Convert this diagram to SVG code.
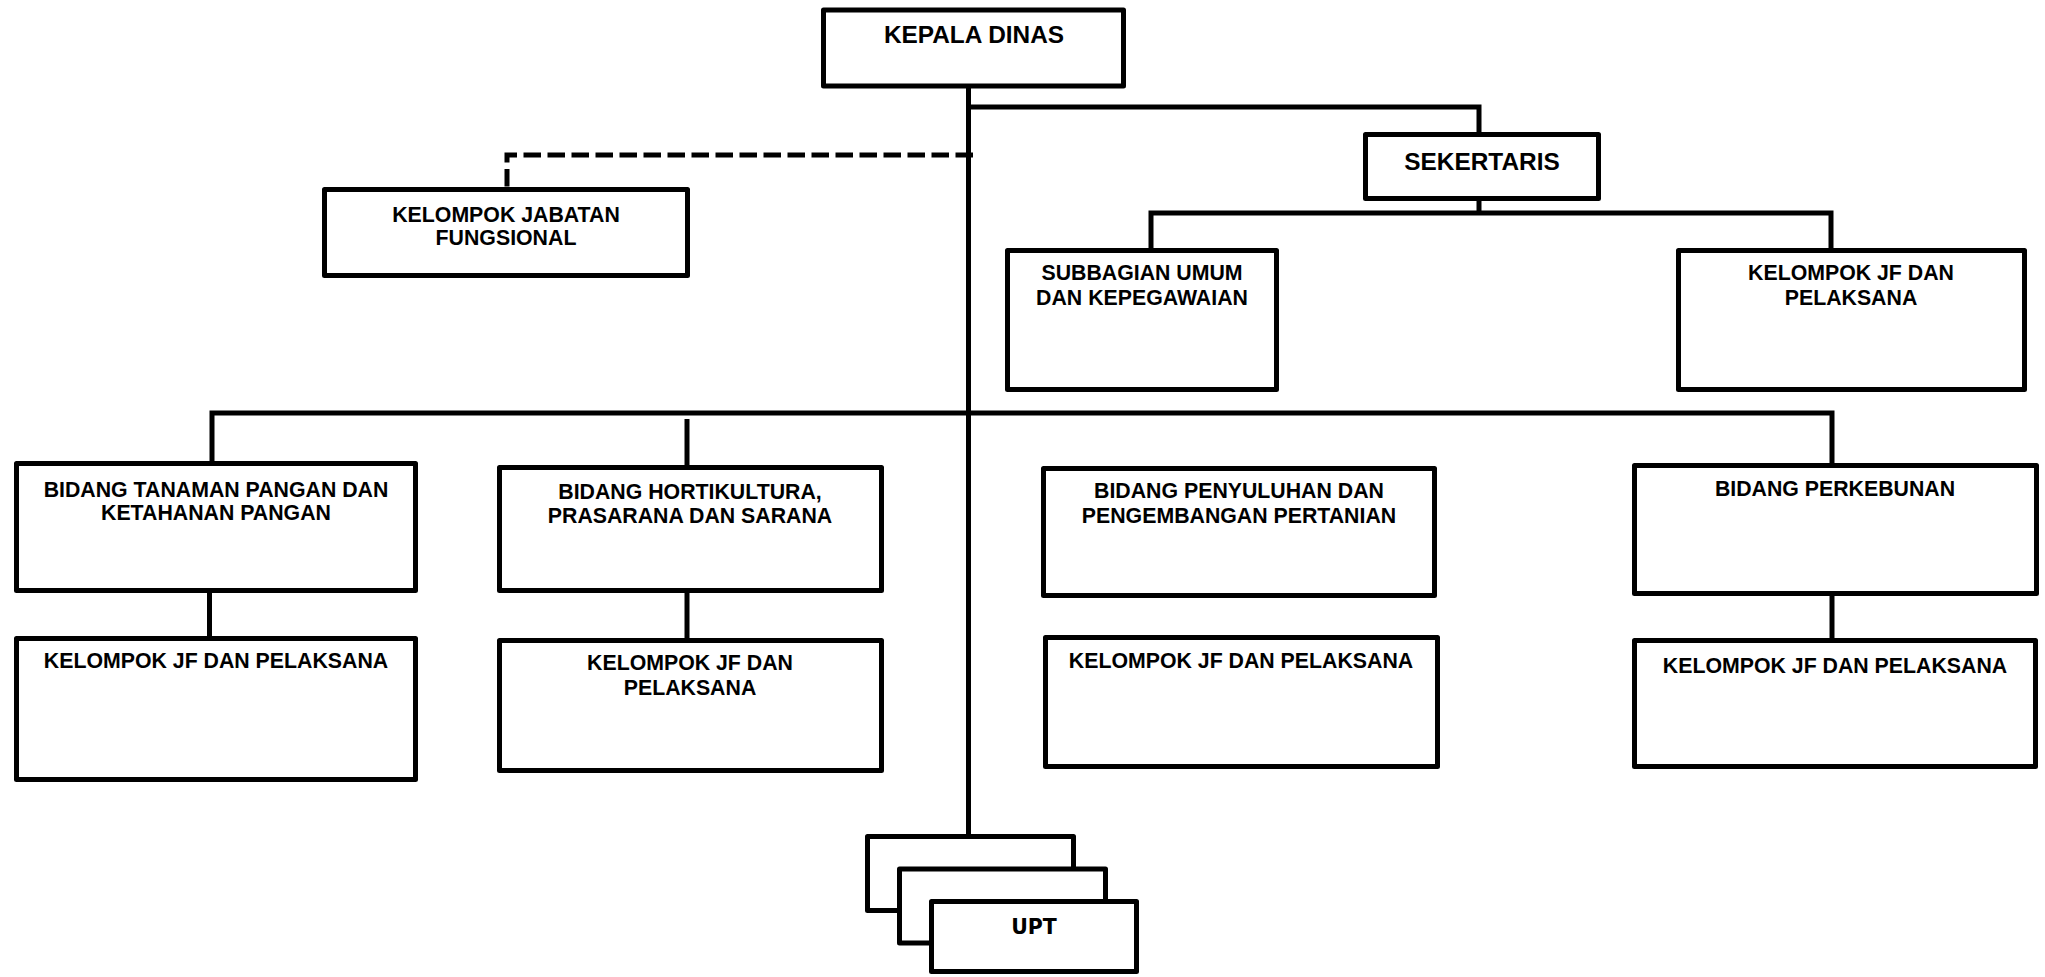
<svg xmlns="http://www.w3.org/2000/svg" width="2045" height="977" viewBox="0 0 2045 977">
<style>
.box{fill:#fff;stroke:#000;stroke-width:5;stroke-linejoin:round}
.ln{fill:none;stroke:#000;stroke-width:5;stroke-linejoin:miter}
.dash{stroke-dasharray:17.5 6.5}
.t{font-family:"Liberation Sans",Arial,sans-serif;font-weight:bold;font-size:21.3px;text-anchor:middle;fill:#000}
.tl{font-size:24.4px}
.u{font-family:"DejaVu Sans",sans-serif;font-weight:bold;font-size:20.5px;text-anchor:middle;fill:#000}
</style>
<rect width="2045" height="977" fill="#fff"/>
<g id="connectors">
<path class="ln" d="M968.5 88 V834"/>
<path class="ln" d="M968.5 107 H1479 V132"/>
<path class="ln dash" d="M973 155 H507 V187"/>
<path class="ln" d="M1479 201 V213"/>
<path class="ln" d="M1151 248 V213 H1831 V248"/>
<path class="ln" d="M212 461 V413 H1832 V463"/>
<path class="ln" d="M687 419 V465"/>
<path class="ln" d="M209.5 593 V636"/>
<path class="ln" d="M687 593 V638"/>
<path class="ln" d="M1832 596 V638"/>
</g>
<g id="kepala-dinas">
<rect class="box" x="823.5" y="10" width="300" height="76"/>
<text class="t tl" x="974" y="43">KEPALA DINAS</text>
</g>
<g id="sekertaris">
<rect class="box" x="1365.5" y="134.5" width="233" height="64"/>
<text class="t tl" x="1482" y="170">SEKERTARIS</text>
</g>
<g id="kelompok-jabatan-fungsional">
<rect class="box" x="324.5" y="189.5" width="363" height="86"/>
<text class="t" x="506" y="222">KELOMPOK JABATAN</text>
<text class="t" x="506" y="245">FUNGSIONAL</text>
</g>
<g id="subbagian-umum">
<rect class="box" x="1007.5" y="250.5" width="269" height="139"/>
<text class="t" x="1142" y="280">SUBBAGIAN UMUM</text>
<text class="t" x="1142" y="305">DAN KEPEGAWAIAN</text>
</g>
<g id="kelompok-jf-sekretariat">
<rect class="box" x="1678.5" y="250.5" width="346" height="139"/>
<text class="t" x="1851" y="280">KELOMPOK JF DAN</text>
<text class="t" x="1851" y="305">PELAKSANA</text>
</g>
<g id="bidang-tanaman-pangan">
<rect class="box" x="16.5" y="463.5" width="399" height="127"/>
<text class="t" x="216" y="497">BIDANG TANAMAN PANGAN DAN</text>
<text class="t" x="216" y="520">KETAHANAN PANGAN</text>
</g>
<g id="bidang-hortikultura">
<rect class="box" x="499.5" y="467.5" width="382" height="123"/>
<text class="t" x="690" y="499">BIDANG HORTIKULTURA,</text>
<text class="t" x="690" y="523">PRASARANA DAN SARANA</text>
</g>
<g id="bidang-penyuluhan">
<rect class="box" x="1043.5" y="468.5" width="391" height="127"/>
<text class="t" x="1239" y="498">BIDANG PENYULUHAN DAN</text>
<text class="t" x="1239" y="523">PENGEMBANGAN PERTANIAN</text>
</g>
<g id="bidang-perkebunan">
<rect class="box" x="1634.5" y="465.5" width="402" height="128"/>
<text class="t" x="1835" y="496">BIDANG PERKEBUNAN</text>
</g>
<g id="kelompok-jf-1">
<rect class="box" x="16.5" y="638.5" width="399" height="141"/>
<text class="t" x="216" y="668">KELOMPOK JF DAN PELAKSANA</text>
</g>
<g id="kelompok-jf-2">
<rect class="box" x="499.5" y="640.5" width="382" height="130"/>
<text class="t" x="690" y="670">KELOMPOK JF DAN</text>
<text class="t" x="690" y="695">PELAKSANA</text>
</g>
<g id="kelompok-jf-3">
<rect class="box" x="1045.5" y="637.5" width="392" height="129"/>
<text class="t" x="1241" y="668">KELOMPOK JF DAN PELAKSANA</text>
</g>
<g id="kelompok-jf-4">
<rect class="box" x="1634.5" y="640.5" width="401" height="126"/>
<text class="t" x="1835" y="673">KELOMPOK JF DAN PELAKSANA</text>
</g>
<g id="upt">
<rect class="box" x="867.5" y="836.5" width="206" height="74"/>
<rect class="box" x="899.5" y="869" width="206" height="74"/>
<rect class="box" x="931.5" y="901.5" width="205" height="70"/>
<text class="u" x="1034" y="934">UPT</text>
</g>
</svg>
